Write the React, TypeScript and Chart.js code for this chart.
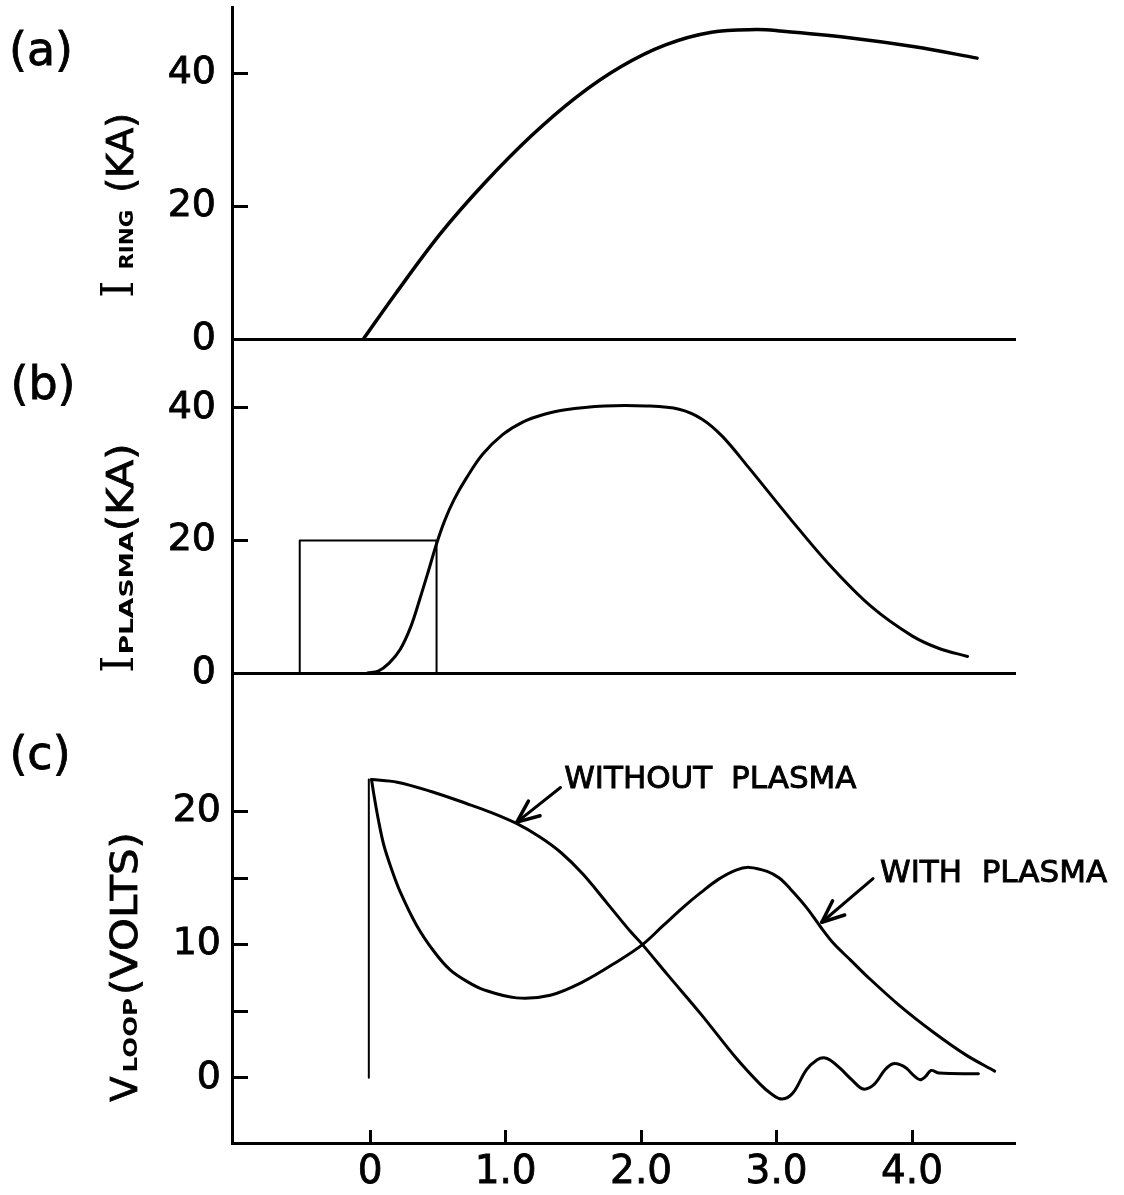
import React, { useEffect, useRef } from 'react';
import { Chart, registerables } from 'chart.js';

Chart.register(...registerables);

const W = 1124;
const H = 1195;

// ---- shared time axis ----
const X_MIN = -1.02;
const X_MAX = 4.76;
const xTicks = [0, 1, 2, 3, 4];
const xTickLabels = ['0', '1.0', '2.0', '3.0', '4.0'];

// ---- panel (a): ring current (kA) ----
const ringT = [-0.05, 0.19, 0.52, 0.85, 1.19, 1.52, 1.85, 2.18, 2.52, 2.85, 3.02, 3.52, 4.02, 4.48];
const ringI = [0, 6.9, 15.9, 23.6, 30.6, 36.4, 41, 44.3, 46.2, 46.6, 46.4, 45.4, 44, 42.3];

// ---- panel (b): plasma current (kA) and gate pulse ----
const plasmaT = [-0.02, 0.06, 0.14, 0.22, 0.3, 0.37, 0.43, 0.49, 0.55, 0.62, 0.71, 0.83, 0.98, 1.13, 1.28, 1.43, 1.73, 2.04, 2.28, 2.45, 2.6, 2.79, 3.1, 3.4, 3.7, 4.0, 4.2, 4.41];
const plasmaI = [0, 0.3, 1.5, 3.5, 7.0, 11.4, 15.4, 19.5, 23.0, 26.2, 29.4, 33.0, 36.0, 37.9, 39.0, 39.7, 40.3, 40.3, 39.8, 38.3, 35.7, 31.1, 23.3, 16.1, 10.0, 5.6, 3.7, 2.5];
const gateT = [-0.52, -0.52, 0.49, 0.49];
const gateI = [0, 20, 20, 0];

// ---- panel (c): loop voltage (V) ----
const riseT = [-0.01, -0.01];
const riseV = [0, 22.4];
const withoutT = [0.01, 0.2, 0.45, 0.71, 0.9, 1.08, 1.25, 1.41, 1.57, 1.75, 1.92, 2.01, 2.19, 2.44, 2.7, 2.88, 2.96, 3.04, 3.12, 3.22, 3.3, 3.35, 3.4, 3.47, 3.56, 3.64, 3.72, 3.8, 3.86, 3.92, 3.96, 4.02, 4.06, 4.1, 4.14, 4.2, 4.49];
const withoutV = [22.4, 22.2, 21.5, 20.6, 19.9, 19.1, 18.1, 16.9, 15.3, 13.1, 11.0, 10.0, 7.8, 4.8, 1.5, -0.5, -1.2, -1.6, -1.15, 0.6, 1.35, 1.5, 1.3, 0.7, -0.2, -0.85, -0.5, 0.6, 1.05, 0.95, 0.7, 0.1, -0.15, 0.1, 0.55, 0.35, 0.3];
const withT = [0.01, 0.03, 0.06, 0.1, 0.16, 0.22, 0.34, 0.47, 0.59, 0.72, 0.84, 1.08, 1.33, 1.57, 1.82, 2.01, 2.16, 2.31, 2.44, 2.57, 2.7, 2.8, 2.93, 3.02, 3.1, 3.22, 3.32, 3.42, 3.55, 3.67, 3.91, 4.16, 4.4, 4.61];
const withV = [22.4, 21.1, 19.4, 17.5, 15.6, 14.0, 11.5, 9.5, 8.1, 7.2, 6.6, 6.0, 6.2, 7.2, 8.7, 10.0, 11.4, 12.8, 13.9, 14.9, 15.6, 15.8, 15.5, 15.0, 14.2, 12.8, 11.4, 10.1, 8.8, 7.6, 5.4, 3.4, 1.7, 0.5];

// ---- y tick values / labels ----
const yTicksAB = [0, 20, 40];
const yTickLabelsAB = ['0', '20', '40'];
const yTicksC = [0, 5, 10, 15, 20];
const yTickLabelsC = ['0', '', '10', '', '20'];

// ---- annotations in panel (c) (data coordinates) ----
const annoWords = [['WITHOUT', 'PLASMA'], ['WITH', 'PLASMA']];
const annoWordT = [[1.432, 2.664], [3.764, 4.514]];
const annoTextV = [22.4, 15.3];
const annoTail = [[1.405, 21.8], [3.712, 14.96]];
const annoTip = [[1.083, 19.2], [3.334, 11.68]];

const FONT = "'DejaVu Sans'";

type Piece = { text: string; font: string; sx?: number; gap?: number; stroke?: number };

function drawVTitle(ctx: CanvasRenderingContext2D, x: number, y: number, pieces: Piece[]) {
  ctx.save();
  ctx.translate(x, y);
  ctx.rotate(-Math.PI / 2);
  ctx.textAlign = 'left';
  ctx.textBaseline = 'alphabetic';
  ctx.fillStyle = '#000';
  ctx.strokeStyle = '#000';
  let pos = 0;
  for (const p of pieces) {
    pos += p.gap || 0;
    const sx = p.sx || 1;
    ctx.font = p.font;
    ctx.save();
    ctx.translate(pos, 0);
    ctx.scale(sx, 1);
    ctx.fillText(p.text, 0, 0);
    if (p.stroke) {
      ctx.lineWidth = p.stroke;
      ctx.strokeText(p.text, 0, 0);
    }
    ctx.restore();
    pos += ctx.measureText(p.text).width * sx;
  }
  ctx.restore();
}

function drawLetter(ctx: CanvasRenderingContext2D, text: string, x: number, y: number) {
  ctx.save();
  ctx.font = `46px ${FONT}`;
  ctx.fillStyle = '#000';
  ctx.strokeStyle = '#000';
  ctx.lineWidth = 0.8;
  ctx.textAlign = 'center';
  ctx.textBaseline = 'middle';
  ctx.fillText(text, x, y);
  ctx.strokeText(text, x, y);
  ctx.restore();
}

function series(xs: number[], ys: number[], width = 3, smooth = true) {
  return {
    data: xs.map((x, i) => ({ x, y: ys[i] })),
    borderColor: '#000',
    borderWidth: width,
    pointRadius: 0,
    fill: false,
    borderJoinStyle: 'round',
    borderCapStyle: 'round',
    cubicInterpolationMode: 'default',
    tension: smooth ? 0.35 : 0,
  };
}

function zeroPad(s: any) {
  s.paddingLeft = 0;
  s.paddingRight = 0;
  s.paddingTop = 0;
  s.paddingBottom = 0;
}

function xScale(show: boolean) {
  return {
    type: 'linear',
    min: X_MIN,
    max: X_MAX,
    afterBuildTicks: (s: any) => {
      s.ticks = xTicks.map((v) => ({ value: v }));
    },
    afterFit: (s: any) => {
      s.height = show ? 52 : 0;
      zeroPad(s);
    },
    grid: {
      display: show,
      drawOnChartArea: false,
      drawTicks: true,
      tickLength: -13,
      tickWidth: 3,
      tickColor: '#000',
    },
    border: { display: true, color: '#000', width: 3 },
    ticks: {
      display: show,
      padding: 19,
      color: '#000',
      textStrokeColor: '#000',
      textStrokeWidth: 0.8,
      autoSkip: false,
      maxRotation: 0,
      font: { family: FONT, size: 39 },
      callback: (v: number) => {
        const i = xTicks.indexOf(v);
        return i >= 0 ? xTickLabels[i] : '';
      },
    },
  };
}

function yScale(min: number, max: number, ticks: number[], labels: string[], pad: number) {
  return {
    type: 'linear',
    position: 'left',
    min,
    max,
    afterBuildTicks: (s: any) => {
      s.ticks = ticks.map((v) => ({ value: v }));
    },
    afterFit: (s: any) => {
      s.width = 232;
      zeroPad(s);
    },
    grid: {
      display: true,
      drawOnChartArea: false,
      drawTicks: true,
      tickLength: -16,
      tickWidth: 3,
      tickColor: '#000',
    },
    border: { display: true, color: '#000', width: 3 },
    ticks: {
      padding: pad,
      color: '#000',
      textStrokeColor: '#000',
      textStrokeWidth: 0.8,
      autoSkip: false,
      font: { family: FONT, size: 38 },
      callback: (v: number) => {
        const i = ticks.indexOf(v);
        return i >= 0 ? labels[i] : '';
      },
    },
  };
}

function baseOptions(padding: any, x: any, y: any) {
  return {
    animation: false,
    responsive: false,
    devicePixelRatio: 1,
    events: [],
    layout: { padding, autoPadding: false },
    plugins: { legend: { display: false }, tooltip: { enabled: false } },
    scales: { x, y },
  };
}

function decor(id: string, fn: (chart: any, ctx: CanvasRenderingContext2D) => void) {
  return {
    id,
    afterDraw(chart: any) {
      const ctx = chart.ctx as CanvasRenderingContext2D;
      ctx.save();
      fn(chart, ctx);
      ctx.restore();
    },
  };
}

function drawArrow(ctx: CanvasRenderingContext2D, x1: number, y1: number, x2: number, y2: number) {
  ctx.strokeStyle = '#000';
  ctx.fillStyle = '#000';
  ctx.lineWidth = 3;
  ctx.lineCap = 'round';
  ctx.beginPath();
  ctx.moveTo(x1, y1);
  ctx.lineTo(x2, y2);
  ctx.stroke();
  const ang = Math.atan2(y1 - y2, x1 - x2);
  const L = 24;
  for (const d of [-0.4, 0.4]) {
    ctx.beginPath();
    ctx.moveTo(x2, y2);
    ctx.lineTo(x2 + L * Math.cos(ang + d), y2 + L * Math.sin(ang + d));
    ctx.lineWidth = 3.5;
    ctx.stroke();
  }
}

export default function App() {
  const refA = useRef<HTMLCanvasElement>(null);
  const refB = useRef<HTMLCanvasElement>(null);
  const refC = useRef<HTMLCanvasElement>(null);

  useEffect(() => {
    const plugA = decor('decorA', (chart, ctx) => {
      const a = chart.chartArea;
      drawLetter(ctx, '(a)', a.left - 191, 53);
      drawVTitle(ctx, a.left - 99, chart.scales.y.getPixelForValue(0) - 41, [
        { text: 'I', font: `44px 'DejaVu Serif'` },
        { text: 'RING', font: `bold 20px ${FONT}`, sx: 1.07, gap: 11 },
        { text: '(KA)', font: `38px ${FONT}`, gap: 17, stroke: 0.8 },
      ]);
    });
    const plugB = decor('decorB', (chart, ctx) => {
      const a = chart.chartArea;
      drawLetter(ctx, '(b)', a.left - 189, 387);
      drawVTitle(ctx, a.left - 99, chart.scales.y.getPixelForValue(0), [
        { text: 'I', font: `44px 'DejaVu Serif'` },
        { text: 'PLASMA', font: `bold 20px ${FONT}`, sx: 1.33, gap: 1 },
        { text: '(KA)', font: `38px ${FONT}`, sx: 1.1, gap: 0, stroke: 0.8 },
      ]);
    });
    const plugC = decor('decorC', (chart, ctx) => {
      const a = chart.chartArea;
      const xs = chart.scales.x;
      const ys = chart.scales.y;
      drawLetter(ctx, '(c)', a.left - 192, 757);
      drawVTitle(ctx, a.left - 95, ys.getPixelForValue(0) + 24, [
        { text: 'V', font: `37px ${FONT}`, stroke: 0.8 },
        { text: 'LOOP', font: `bold 19px ${FONT}`, sx: 1.29, gap: 4 },
        { text: '(VOLTS)', font: `38px ${FONT}`, sx: 1.1, gap: 3, stroke: 0.8 },
      ]);
      ctx.fillStyle = '#000';
      ctx.strokeStyle = '#000';
      ctx.font = `31px ${FONT}`;
      ctx.textAlign = 'left';
      ctx.textBaseline = 'middle';
      for (let k = 0; k < annoWords.length; k++) {
        const yPix = ys.getPixelForValue(annoTextV[k]);
        annoWords[k].forEach((w, j) => {
          const xPix = xs.getPixelForValue(annoWordT[k][j]);
          ctx.lineWidth = 0.9;
          ctx.fillText(w, xPix, yPix);
          ctx.strokeText(w, xPix, yPix);
        });
        drawArrow(
          ctx,
          xs.getPixelForValue(annoTail[k][0]),
          ys.getPixelForValue(annoTail[k][1]),
          xs.getPixelForValue(annoTip[k][0]),
          ys.getPixelForValue(annoTip[k][1])
        );
      }
    });

    const chartA = new Chart(refA.current as HTMLCanvasElement, {
      type: 'line',
      data: { datasets: [series(ringT, ringI, 3.5)] as any },
      options: baseOptions(
        { left: 0, top: 7, right: 109, bottom: 856 },
        xScale(false),
        yScale(0, 50, yTicksAB, yTickLabelsAB, 32)
      ) as any,
      plugins: [plugA],
    });
    const chartB = new Chart(refB.current as HTMLCanvasElement, {
      type: 'line',
      data: {
        datasets: [series(gateT, gateI, 2, false), series(plasmaT, plasmaI, 3)] as any,
      },
      options: baseOptions(
        { left: 0, top: 339, right: 109, bottom: 522 },
        xScale(false),
        yScale(0, 50.4, yTicksAB, yTickLabelsAB, 32)
      ) as any,
      plugins: [plugB],
    });
    const chartC = new Chart(refC.current as HTMLCanvasElement, {
      type: 'line',
      data: {
        datasets: [
          series(riseT, riseV, 2, false),
          series(withoutT, withoutV, 3),
          series(withT, withV, 3),
        ] as any,
      },
      options: baseOptions(
        { left: 0, top: 673, right: 109, bottom: 0 },
        xScale(true),
        yScale(-4.9, 30.4, yTicksC, yTickLabelsC, 27)
      ) as any,
      plugins: [plugC],
    });
    return () => {
      chartA.destroy();
      chartB.destroy();
      chartC.destroy();
    };
  }, []);

  const cs: React.CSSProperties = { position: 'absolute', left: 0, top: 0 };
  return (
    <div style={{ position: 'absolute', left: 0, top: 0, width: W, height: H, background: '#fff' }}>
      <canvas ref={refA} width={W} height={H} style={cs} />
      <canvas ref={refB} width={W} height={H} style={cs} />
      <canvas ref={refC} width={W} height={H} style={cs} />
    </div>
  );
}
